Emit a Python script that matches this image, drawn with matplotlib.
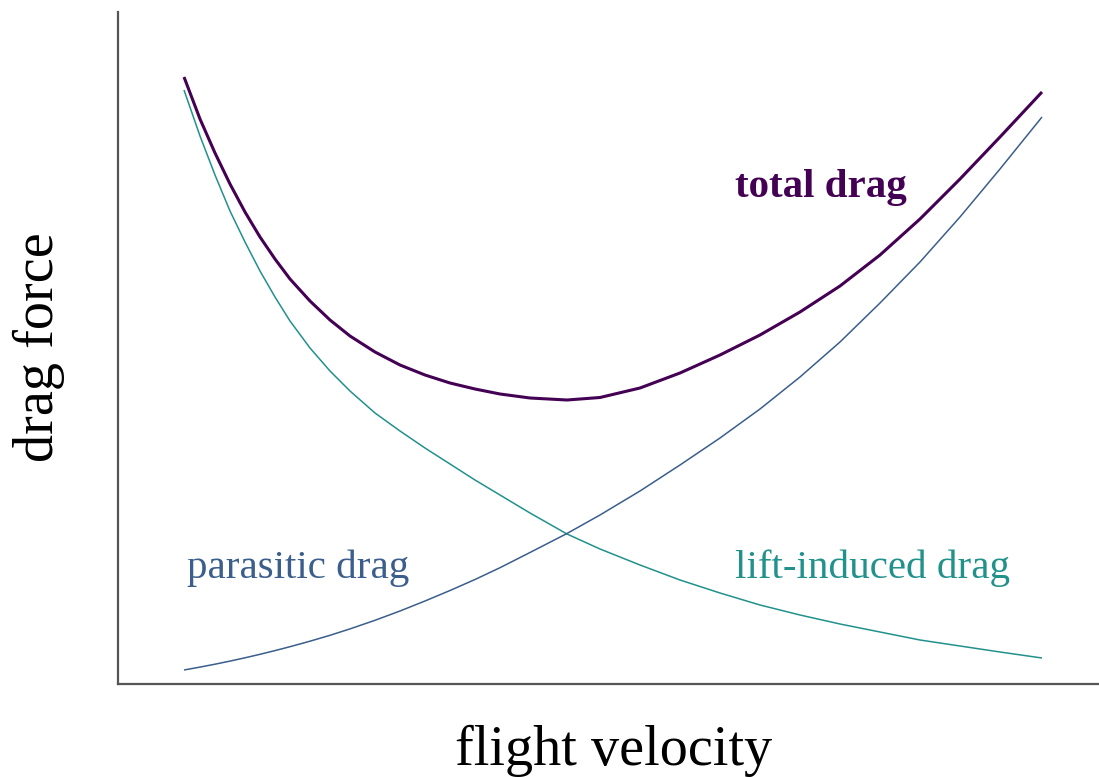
import matplotlib
matplotlib.use("Agg")
import matplotlib.pyplot as plt

plt.rcParams['font.family'] = ['Liberation Serif', 'DejaVu Serif']

# Values (arbitrary units: velocity / drag force)
velocity = [66, 82, 97, 112, 127, 142, 157, 172, 192, 212, 232, 257, 282, 307, 332, 357,
            382, 412, 449, 482, 522, 562, 602, 642, 682, 722, 762, 802, 842, 882, 924]
total_drag = [607, 565, 531, 500, 472, 447, 425, 405, 383, 364, 348, 332, 319, 309, 301, 295,
              290, 286, 284, 286.5, 296, 311, 329, 349, 372, 398, 429, 465, 505, 547, 592]
induced_drag = [594, 548, 509, 473, 442, 413, 387, 363, 336, 313, 293, 271, 253, 236, 220, 204,
                189, 171, 150, 135, 119, 104, 91, 79, 69, 60, 52, 44, 38, 32, 26]
parasitic_drag = [14, 16.9, 19.8, 22.9, 26.2, 29.7, 33.4, 37.3, 42.8, 48.7, 55.1, 63.7, 73, 83,
                  93.5, 104.5, 116.3, 131.5, 150.5, 169, 193, 219, 246, 275, 307, 342, 381, 422,
                  467, 515, 567]

C_TOTAL = '#440154'
C_PARA = '#3b5e8c'
C_IND = '#21918c'

W, H = 1099, 777
fig = plt.figure(figsize=(W / 100, H / 100), dpi=100)
ax = fig.add_axes([118 / W, (H - 684) / H, (1099 - 118) / W, (684 - 12) / H])

ax.plot(velocity, total_drag, color=C_TOTAL, lw=2.2, solid_capstyle='butt',
        solid_joinstyle='round')
ax.plot(velocity, induced_drag, color=C_IND, lw=1.1, solid_capstyle='butt',
        solid_joinstyle='round')
ax.plot(velocity, parasitic_drag, color=C_PARA, lw=1.1, solid_capstyle='butt',
        solid_joinstyle='round')

ax.set_xlim(0, 981)
ax.set_ylim(0, 672)
ax.set_xticks([])
ax.set_yticks([])
for s in ['top', 'right']:
    ax.spines[s].set_visible(False)
for s in ['left', 'bottom']:
    ax.spines[s].set_color('#555555')
    ax.spines[s].set_linewidth(1.6)

ax.text(617, 487, 'total drag', color=C_TOTAL, fontsize=29.5, fontweight='bold',
        ha='left', va='baseline')
ax.text(69, 106, 'parasitic drag', color=C_PARA, fontsize=29.5, ha='left', va='baseline')
ax.text(617, 106, 'lift-induced drag', color=C_IND, fontsize=29.5, ha='left', va='baseline')

fig.text(614 / W, 1 - 765 / H, 'flight velocity', fontsize=40.5, ha='center', va='baseline')
fig.text(39 / W, 1 - 347 / H, 'drag force', fontsize=40.5, ha='center', va='center',
         rotation=90)

fig.savefig('out.png', dpi=100)
